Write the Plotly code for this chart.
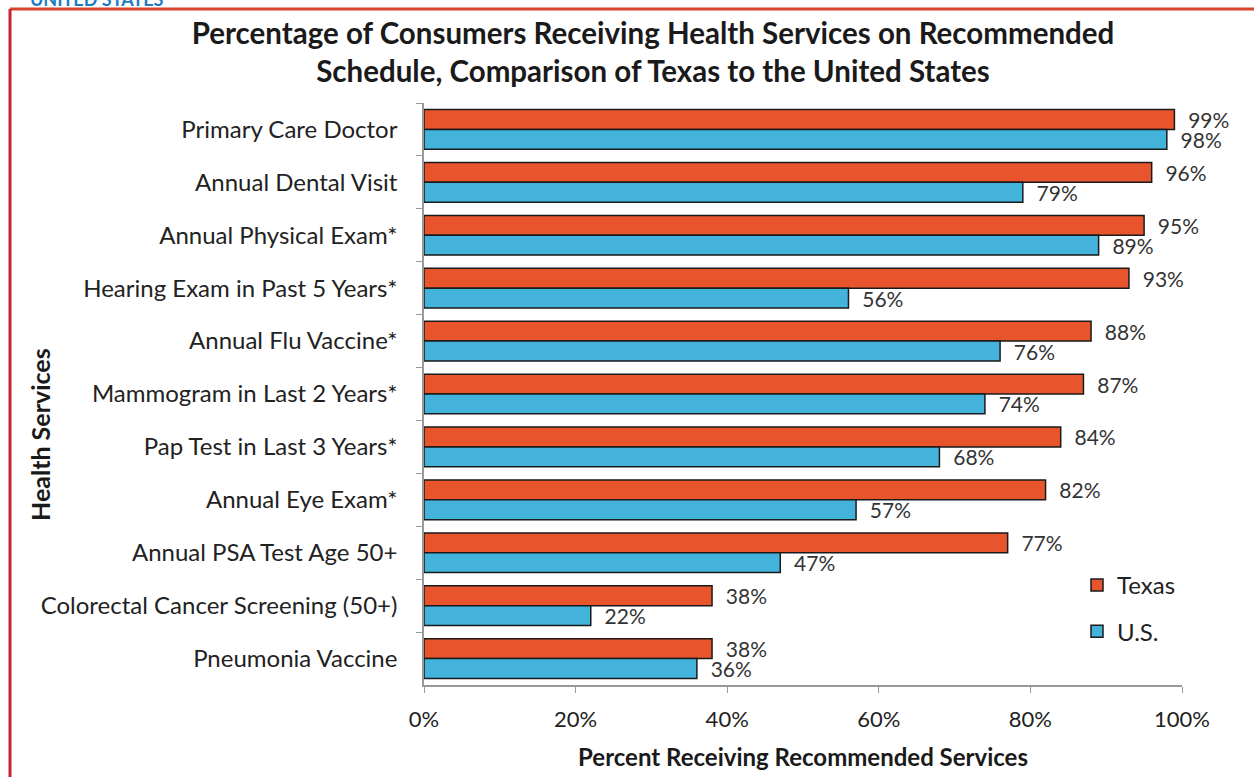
import plotly.graph_objects as go

services = ['Primary Care Doctor', 'Annual Dental Visit', 'Annual Physical Exam*',
            'Hearing Exam in Past 5 Years*', 'Annual Flu Vaccine*',
            'Mammogram in Last 2 Years*', 'Pap Test in Last 3 Years*',
            'Annual Eye Exam*', 'Annual PSA Test Age 50+',
            'Colorectal Cancer Screening (50+)', 'Pneumonia Vaccine']
texas = [99, 96, 95, 93, 88, 87, 84, 82, 77, 38, 38]
us = [98, 79, 89, 56, 76, 74, 68, 57, 47, 22, 36]

FONT = 'Lato'
W, H = 1254, 777
L, R, T, B = 424, 72, 103, 92
PW, PH = W - L - R, H - T - B


# pixel -> paper helpers
def px(x):
    return (x - L) / PW


def py(y):
    return (H - B - y) / PH


fig = go.Figure()
for name, vals, color, grp in [('Texas', texas, '#E8552D', 'tx'),
                               ('U.S.', us, '#43B3DC', 'us')]:
    fig.add_trace(go.Bar(
        y=services, x=vals, name=name, orientation='h', legendgroup=grp,
        marker=dict(color=color, line=dict(color='#1a1a1a', width=1.5)),
        texttemplate='  %{x}', textposition='outside', constraintext='none',
        textfont=dict(size=21, color='#333333', family=FONT), cliponaxis=False,
        hovertemplate='%{y}<br>' + name + ': %{x}<extra></extra>'))

fig.update_layout(
    width=W, height=H,
    margin=dict(l=L, r=R, t=T, b=B),
    paper_bgcolor='white', plot_bgcolor='white',
    font=dict(family=FONT, color='#222222'),
    barmode='group', bargap=0.25, bargroupgap=0,
    title=dict(text='<b>Percentage of Consumers Receiving Health Services on Recommended<br>'
                    'Schedule, Comparison of Texas to the United States</b>',
               x=653 / W, xanchor='center', y=1 - 44 / H, yanchor='top',
               font=dict(size=29.5, color='#1a1a1a', family=FONT)),
    legend=dict(x=px(1077), y=py(563), xanchor='left', yanchor='top',
                tracegroupgap=12, font=dict(size=24, color='#222222', family=FONT),
                bgcolor='rgba(0,0,0,0)'),
    xaxis=dict(range=[0, 100], dtick=20, ticksuffix='%', showgrid=False,
               showline=True, linecolor='#999999', linewidth=1.5,
               ticks='outside', ticklen=6, tickcolor='#999999',
               ticklabelstandoff=8, automargin=False,
               tickfont=dict(size=22, color='#222222'), zeroline=False,
               title=dict(text='<b>Percent Receiving Recommended Services</b>',
                          font=dict(size=24, color='#1a1a1a'), standoff=18)),
    yaxis=dict(autorange='reversed', showgrid=False, showline=True,
               linecolor='#999999', linewidth=1.5, ticks='outside', ticklen=6,
               tickcolor='#999999', tickson='boundaries', automargin=False,
               ticklabelstandoff=20, tickfont=dict(size=24, color='#222222')),
)

# y axis title placed like the original
fig.add_annotation(text='<b>Health Services</b>', textangle=-90, showarrow=False,
                   xref='paper', yref='paper', x=px(40), y=py(435),
                   xanchor='center', yanchor='middle',
                   font=dict(size=25, color='#1a1a1a', family=FONT))

# red page frame and the cut-off header of the scanned page
fig.add_shape(type='line', xref='paper', yref='paper',
              x0=px(10), x1=px(W + 5), y0=py(9), y1=py(9),
              line=dict(color='#D8452E', width=3))
fig.add_shape(type='line', xref='paper', yref='paper',
              x0=px(10), x1=px(10), y0=py(9), y1=py(H + 5),
              line=dict(color='#CC2233', width=3))
fig.add_annotation(text='<b>UNITED STATES</b>', xref='paper', yref='paper',
                   x=px(28), y=py(-1), xanchor='left', yanchor='middle',
                   showarrow=False, font=dict(size=18, color='#1E7BC4', family=FONT))

fig.write_html('out.html', config={'displayModeBar': False},
               post_script="document.body.style.margin = '0';")
